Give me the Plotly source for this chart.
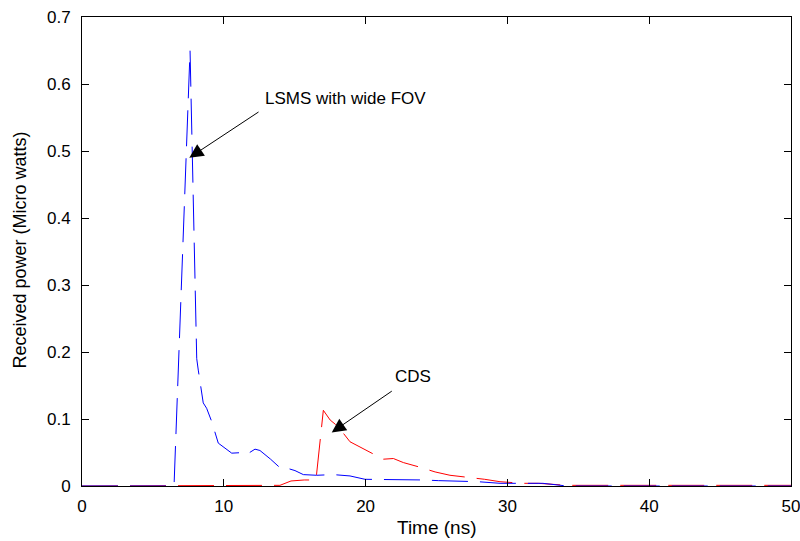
import plotly.graph_objects as go

# LSMS with wide FOV (blue)
lsms_t = [0, 6.49, 7.62, 8.09, 8.20, 8.55, 8.79, 9.15, 9.61, 10.56, 11.4, 11.6, 12.2, 12.55,
          13.3, 14.08, 14.55, 15.02, 15.61, 16.55, 17.72, 18.9, 19.96, 21.49, 24.07, 25.13,
          27.95, 29.48, 32.5, 34.18, 50]
lsms_p = [0, 0, 0.65, 0.19, 0.173, 0.124, 0.116, 0.096, 0.064, 0.049, 0.050, 0.047, 0.055, 0.053,
          0.040, 0.025, 0.026, 0.023, 0.017, 0.016, 0.017, 0.015, 0.010, 0.010, 0.009, 0.008,
          0.0064, 0.004, 0.004, 0.0, 0.0]

# CDS (red)
cds_t = [0, 12.0, 13.96, 14.74, 15.67, 16.5, 17.02, 17.5, 18.07, 18.9, 19.37, 20.31, 21.25,
         21.96, 22.66, 23.84, 24.9, 25.95, 27.4, 28.4, 29.48, 31.1, 32.2, 34.18, 50]
cds_p = [0, 0, 0.001, 0.0075, 0.009, 0.009, 0.113, 0.0985, 0.0885, 0.066, 0.061, 0.050, 0.040,
         0.041, 0.035, 0.028, 0.021, 0.016, 0.013, 0.010, 0.0064, 0.004, 0.004, 0.001, 0.001]

x_ticks = [0, 10, 20, 30, 40, 50]
y_ticks = [0, 0.1, 0.2, 0.3, 0.4, 0.5, 0.6, 0.7]

FONT = "Liberation Sans, Arial, sans-serif"

fig = go.Figure()
fig.add_trace(go.Scatter(x=cds_t, y=cds_p, mode="lines",
                         line=dict(color="#ff0000", width=1, dash="36px,12px"), name="CDS"))
fig.add_trace(go.Scatter(x=lsms_t, y=lsms_p, mode="lines",
                         line=dict(color="#0000ff", width=1, dash="36px,12px"), name="LSMS"))

axis_common = dict(showgrid=False, zeroline=False, showline=True, linecolor="black", linewidth=1,
                   mirror="ticks", ticks="inside", ticklen=7, tickcolor="black", tickwidth=1,
                   automargin=False, ticklabeloverflow="allow",
                   tickfont=dict(family=FONT, size=17, color="black"))

fig.update_xaxes(range=[0, 50], tickvals=x_ticks, ticktext=[str(v) for v in x_ticks],
                 ticklabelstandoff=5, **axis_common)
fig.update_yaxes(range=[0, 0.7], tickvals=y_ticks,
                 ticktext=["0" if v == 0 else f"{v:.1f}" for v in y_ticks],
                 ticklabelstandoff=7, **axis_common)

# axis titles
fig.add_annotation(xref="paper", yref="paper", x=0.5, y=0, yshift=-41, text="Time (ns)",
                   showarrow=False, xanchor="center", yanchor="middle",
                   font=dict(family=FONT, size=19, color="black"))
fig.add_annotation(xref="paper", yref="paper", x=0, y=0.502, xshift=-62,
                   text="Received power (Micro watts)", textangle=-90,
                   showarrow=False, xanchor="center", yanchor="middle",
                   font=dict(family=FONT, size=18, color="black"))

# arrows
fig.add_annotation(x=7.57, y=0.49, ax=70.7, ay=-46.7, text="", showarrow=True,
                   arrowhead=2, arrowsize=2.8, arrowwidth=1, arrowcolor="black")
fig.add_annotation(x=17.61, y=0.080, ax=61.6, ay=-42.3, text="", showarrow=True,
                   arrowhead=2, arrowsize=2.8, arrowwidth=1, arrowcolor="black")
# labels
fig.add_annotation(x=12.76, y=0.578, text="LSMS with wide FOV", showarrow=False,
                   xanchor="left", yanchor="middle", font=dict(family=FONT, size=17, color="black"))
fig.add_annotation(x=21.9, y=0.163, text="CDS", showarrow=False,
                   xanchor="left", yanchor="middle", font=dict(family=FONT, size=17, color="black"))

fig.update_layout(width=800, height=541, margin=dict(l=82, r=9, t=17, b=55),
                  paper_bgcolor="white", plot_bgcolor="white", showlegend=False)

fig.write_html("out.html", config={"displayModeBar": False},
               post_script="document.body.style.margin='0';document.body.style.overflow='hidden';")
